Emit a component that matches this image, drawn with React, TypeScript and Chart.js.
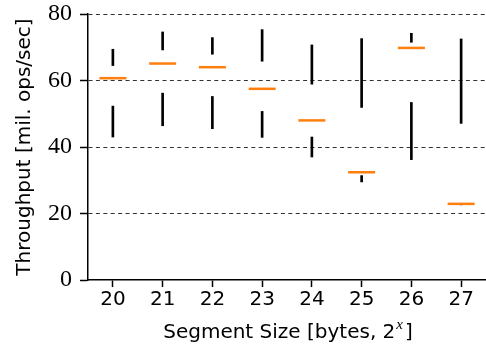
import React, { useEffect, useRef } from "react";
import { Chart, registerables } from "chart.js";

Chart.register(...registerables);

const categories = ["20", "21", "22", "23", "24", "25", "26", "27"];
const whiskerLow = [43.0, 46.4, 45.5, 42.9, 37.0, 29.5, 36.2, 22.6];
const boxLow = [52.3, 56.2, 55.2, 50.7, 43.0, 31.4, 53.4, 22.9];
const medians = [60.7, 65.1, 64.0, 57.5, 48.0, 32.4, 69.8, 22.9];
const boxHigh = [64.5, 69.2, 67.9, 65.8, 58.9, 51.9, 71.5, 47.1];
const whiskerHigh = [69.4, 74.6, 72.9, 75.3, 70.7, 72.6, 74.2, 72.5];
const yTicks = [0, 20, 40, 60, 80];

const yTitle = "Throughput [mil. ops/sec]";
const xTitleMain = "Segment Size [bytes, 2";
const xTitleSup = "x";
const xTitleEnd = "]";

const SANS = "'DejaVu Sans', sans-serif";
const SERIF = "'Liberation Serif', serif";

const xTitlePlugin = {
  id: "xTitlePlugin",
  afterDraw(chart: any) {
    const { ctx, chartArea } = chart;
    ctx.save();
    ctx.fillStyle = "#000";
    ctx.textBaseline = "middle";
    ctx.textAlign = "left";
    const mainFont = `20px ${SANS}`;
    const supFont = `italic 15px ${SERIF}`;
    ctx.font = mainFont;
    const w1 = ctx.measureText(xTitleMain).width;
    const w3 = ctx.measureText(xTitleEnd).width;
    ctx.font = supFont;
    const w2 = ctx.measureText(xTitleSup).width + 3;
    const total = w1 + w2 + w3;
    const cx = (chartArea.left + 488) / 2;
    const y = 333;
    let x = cx - total / 2;
    ctx.font = mainFont;
    ctx.fillText(xTitleMain, x, y);
    x += w1;
    ctx.font = supFont;
    ctx.fillText(xTitleSup, x + 1, y - 8);
    x += w2;
    ctx.font = mainFont;
    ctx.fillText(xTitleEnd, x, y);
    ctx.restore();
  },
};

export default function App() {
  const ref = useRef<HTMLCanvasElement>(null);
  useEffect(() => {
    if (!ref.current) return;
    const chart = new Chart(ref.current, {
      type: "bar",
      data: {
        labels: categories,
        datasets: [
          {
            type: "line",
            data: medians,
            showLine: false,
            pointStyle: "line",
            pointRadius: 13.5,
            pointBorderWidth: 2.5,
            pointBorderColor: "#ff7f0e",
            borderColor: "#ff7f0e",
            backgroundColor: "#ff7f0e",
            order: 0,
          } as any,
          {
            type: "bar",
            data: categories.map((_, i) => [whiskerLow[i], boxLow[i]]),
            backgroundColor: "#000",
            barThickness: 2,
            grouped: false,
            order: 1,
          } as any,
          {
            type: "bar",
            data: categories.map((_, i) => [boxHigh[i], whiskerHigh[i]]),
            backgroundColor: "#000",
            barThickness: 2,
            grouped: false,
            order: 1,
          } as any,
        ],
      },
      options: {
        responsive: false,
        animation: false,
        events: [],
        layout: { autoPadding: false, padding: { top: 14, left: 0, right: 0, bottom: 0 } },
        plugins: {
          legend: { display: false },
          tooltip: { enabled: false },
        },
        scales: {
          x: {
            offset: true,
            grid: {
              offset: false,
              drawOnChartArea: false,
              drawTicks: true,
              tickLength: 7,
              tickColor: "#000",
              tickWidth: 1.5,
            },
            border: { color: "#000", width: 1.5 },
            ticks: {
              color: "#000",
              font: { family: SANS, size: 20 },
              padding: 1,
              maxRotation: 0,
            },
            afterFit: (s: any) => {
              s.height = 74;
              s.paddingLeft = 0;
              s.paddingRight = 0;
            },
          },
          y: {
            min: 0,
            max: 80,
            afterBuildTicks: (s: any) => {
              s.ticks = yTicks.map((v) => ({ value: v }));
            },
            grid: {
              color: (c: any) =>
                c.tick && c.tick.value === 0 ? "rgba(0,0,0,0)" : "rgba(0,0,0,0.8)",
              lineWidth: 1,
              drawTicks: true,
              tickLength: 8,
              tickColor: "#000",
              tickWidth: 1.5,
              tickBorderDash: [],
            },
            border: { color: "#000", width: 1.5, dash: [4, 3.4] },
            ticks: {
              color: "#000",
              font: { family: SERIF, size: 24 },
              padding: 8,
            },
            title: {
              display: true,
              text: yTitle,
              color: "#000",
              font: { family: SANS, size: 20 },
              padding: { top: 13, bottom: 0 },
            },
            afterFit: (s: any) => {
              s.width = 88;
              s.paddingTop = 0;
              s.paddingBottom = 0;
            },
          },
        },
      },
      plugins: [xTitlePlugin],
    });
    return () => chart.destroy();
  }, []);
  return (
    <div style={{ position: "fixed", left: 0, top: 0, width: 486, height: 354, background: "#fff" }}>
      <canvas ref={ref} width={486} height={354} style={{ display: "block" }} />
    </div>
  );
}
